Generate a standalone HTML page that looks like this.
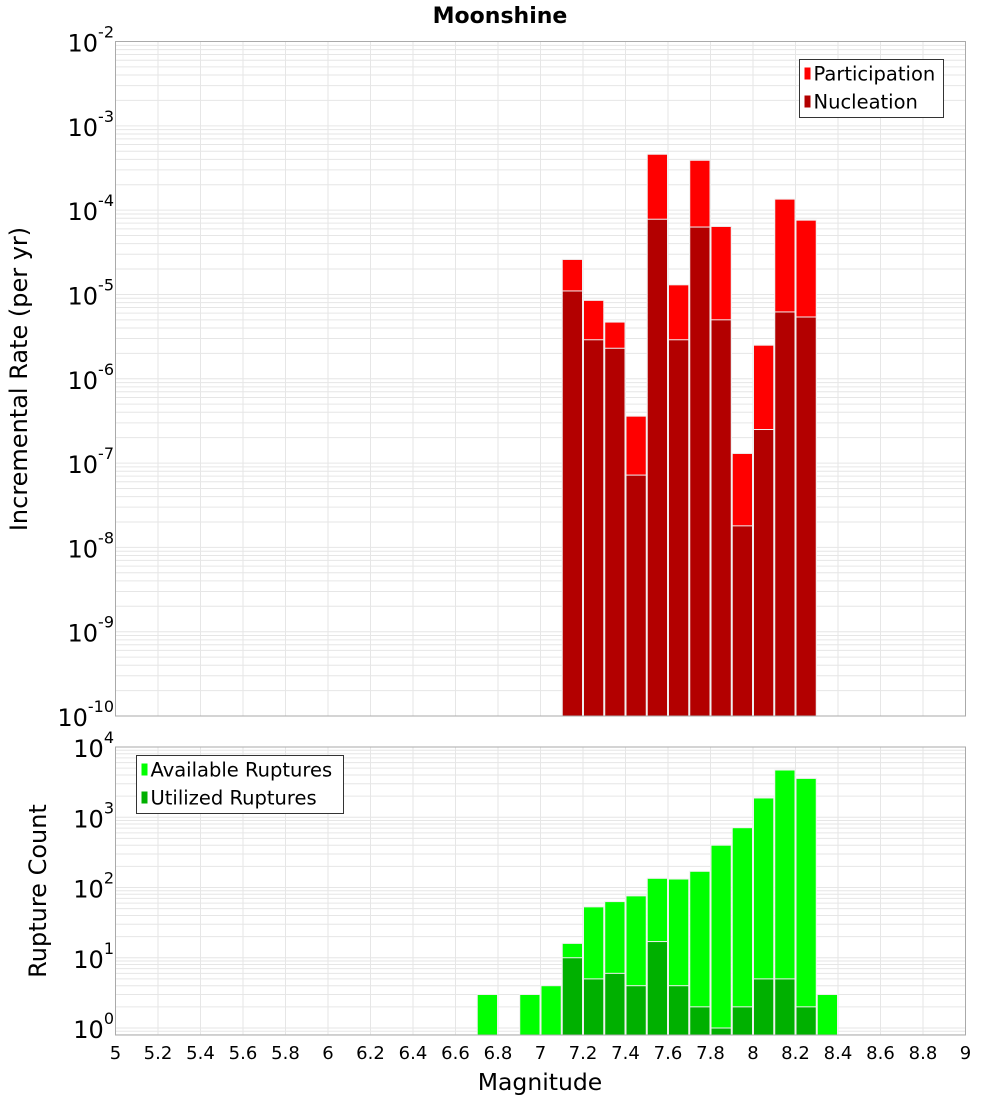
<!DOCTYPE html>
<html><head><meta charset="utf-8"><style>
body{margin:0;background:#fff;font-family:"Liberation Sans","DejaVu Sans",sans-serif}
svg text{font-family:"DejaVu Sans","Liberation Sans",sans-serif}
</style></head><body>
<svg id="c" width="1000" height="1100" xmlns="http://www.w3.org/2000/svg"></svg>
<script>
const topBins=[7.1,7.2,7.3,7.4,7.5,7.6,7.7,7.8,7.9,8.0,8.1,8.2];
const participation=[2.6e-5,8.5e-6,4.7e-6,3.6e-7,4.6e-4,1.3e-5,3.9e-4,6.4e-5,1.3e-7,2.5e-6,1.35e-4,7.6e-5];
const nucleation=[1.1e-5,2.9e-6,2.3e-6,7.2e-8,7.8e-5,2.9e-6,6.3e-5,5.0e-6,1.8e-8,2.5e-7,6.2e-6,5.4e-6];
const botBins=[6.7,6.9,7.0,7.1,7.2,7.3,7.4,7.5,7.6,7.7,7.8,7.9,8.0,8.1,8.2,8.3];
const available=[3,3,4,16,53,63,76,135,132,170,400,710,1880,4700,3570,3];
const utilized=[0,0,0,10,5,6,4,17,4,2,1,2,5,5,2,0];
const xTicks=[5,5.2,5.4,5.6,5.8,6,6.2,6.4,6.6,6.8,7,7.2,7.4,7.6,7.8,8,8.2,8.4,8.6,8.8,9];
const topExp=[-2,-3,-4,-5,-6,-7,-8,-9,-10];
const botExp=[4,3,2,1,0];

const svg=document.getElementById('c');
const NS='http://www.w3.org/2000/svg';
function el(tag,attrs,parent){const e=document.createElementNS(NS,tag);for(const k in attrs)e.setAttribute(k,attrs[k]);(parent||svg).appendChild(e);return e;}
const L=115.5,R=965.5;
const X=v=>L+(v-5)/4*(R-L);
const T0=41.5,T1=716;
const YT=v=>T0+(-2-Math.log10(v))*(T1-T0)/8;
const B0=747,B1=1035;
const YB=v=>1028-Math.log10(v)*70.25;

function grid(top,bot,ymap,eLo,eHi){
  const g=el('g',{});
  
  
  for(let e=eLo;e<=eHi;e++)for(let m=1;m<10;m++){const y=ymap(m*Math.pow(10,e));if(y>=top&&y<=bot)el('line',{x1:L,x2:R,y1:y,y2:y,stroke:'#e6e6e6','stroke-width':1},g);}
  xTicks.forEach(t=>{const x=X(t);el('line',{x1:x,x2:x,y1:top,y2:bot,stroke:'#e6e6e6','stroke-width':1},g);});
}
grid(T0,T1,YT,-10,-3);
grid(B0,B1,YB,-1,3);

function bars(bins,vals,ymap,bot,color,name){
  bins.forEach((b,i)=>{if(vals[i]<=0)return;const x=X(b),w=X(b+0.1)-x;const y=Math.max(ymap(vals[i]),0);
    const r=el('rect',{x:x+0.5,y:y,width:w-1,height:bot-y,fill:color,stroke:'#f0f0f0','stroke-width':1});
    
    });
}
bars(topBins,participation,YT,T1,'#ff0000','participation');
bars(topBins,nucleation,YT,T1,'#b30000','nucleation');
bars(botBins,available,YB,B1,'#00ff00','available');
bars(botBins,utilized,YB,B1,'#00b000','utilized');

el('rect',{x:L,y:T0,width:R-L,height:T1-T0,fill:'none',stroke:'#aaa'});
el('rect',{x:L,y:B0,width:R-L,height:B1-B0,fill:'none',stroke:'#aaa'});

function ylab(e,y,name){const t=el('text',{x:114,y:y+10,'text-anchor':'end','font-size':24,fill:'#000'});
  
  const a=document.createElementNS(NS,'tspan');a.textContent='10';t.appendChild(a);
  const s=document.createElementNS(NS,'tspan');s.setAttribute('dy','-14');s.setAttribute('font-size','16');s.textContent=String(e);t.appendChild(s);}
topExp.forEach(e=>ylab(e,YT(Math.pow(10,e)),'y-tick-top'));
botExp.forEach(e=>ylab(e,YB(Math.pow(10,e)),'y-tick-bottom'));

xTicks.forEach(t=>{const tx=el('text',{x:X(t),y:1059,'text-anchor':'middle','font-size':18,fill:'#000'});tx.textContent=String(t);
  });

function txt(s,attrs,name){const t=el('text',attrs);t.textContent=s;return t;}
txt('Moonshine',{x:500,y:23,'text-anchor':'middle','font-size':22,'font-weight':'bold'},'chart-title');
txt('Magnitude',{x:540,y:1090,'text-anchor':'middle','font-size':23.5},'x-axis-title');
txt('Incremental Rate (per yr)',{x:0,y:0,'text-anchor':'middle','font-size':24,transform:'translate(27,379) rotate(-90)'},'y-axis-title-top');
txt('Rupture Count',{x:0,y:0,'text-anchor':'middle','font-size':24,transform:'translate(46,891) rotate(-90)'},'y-axis-title-bottom');

function legend(x,y,w,items,name){const g=el('g',{});
  el('rect',{x:x,y:y,width:w,height:58,fill:'#fff',stroke:'#333'},g);
  items.forEach((it,i)=>{const cy=y+14+i*28;el('rect',{x:x+5,y:cy-6,width:6,height:12,fill:it[1]},g);
    const t=el('text',{x:x+14,y:cy+7,'font-size':19.5},g);t.textContent=it[0];});}
legend(799.5,59.5,144,[['Participation','#ff0000'],['Nucleation','#b30000']],'legend-top');
legend(136.5,755.5,207,[['Available Ruptures','#00ff00'],['Utilized Ruptures','#00b000']],'legend-bottom');
</script>
</body></html>
